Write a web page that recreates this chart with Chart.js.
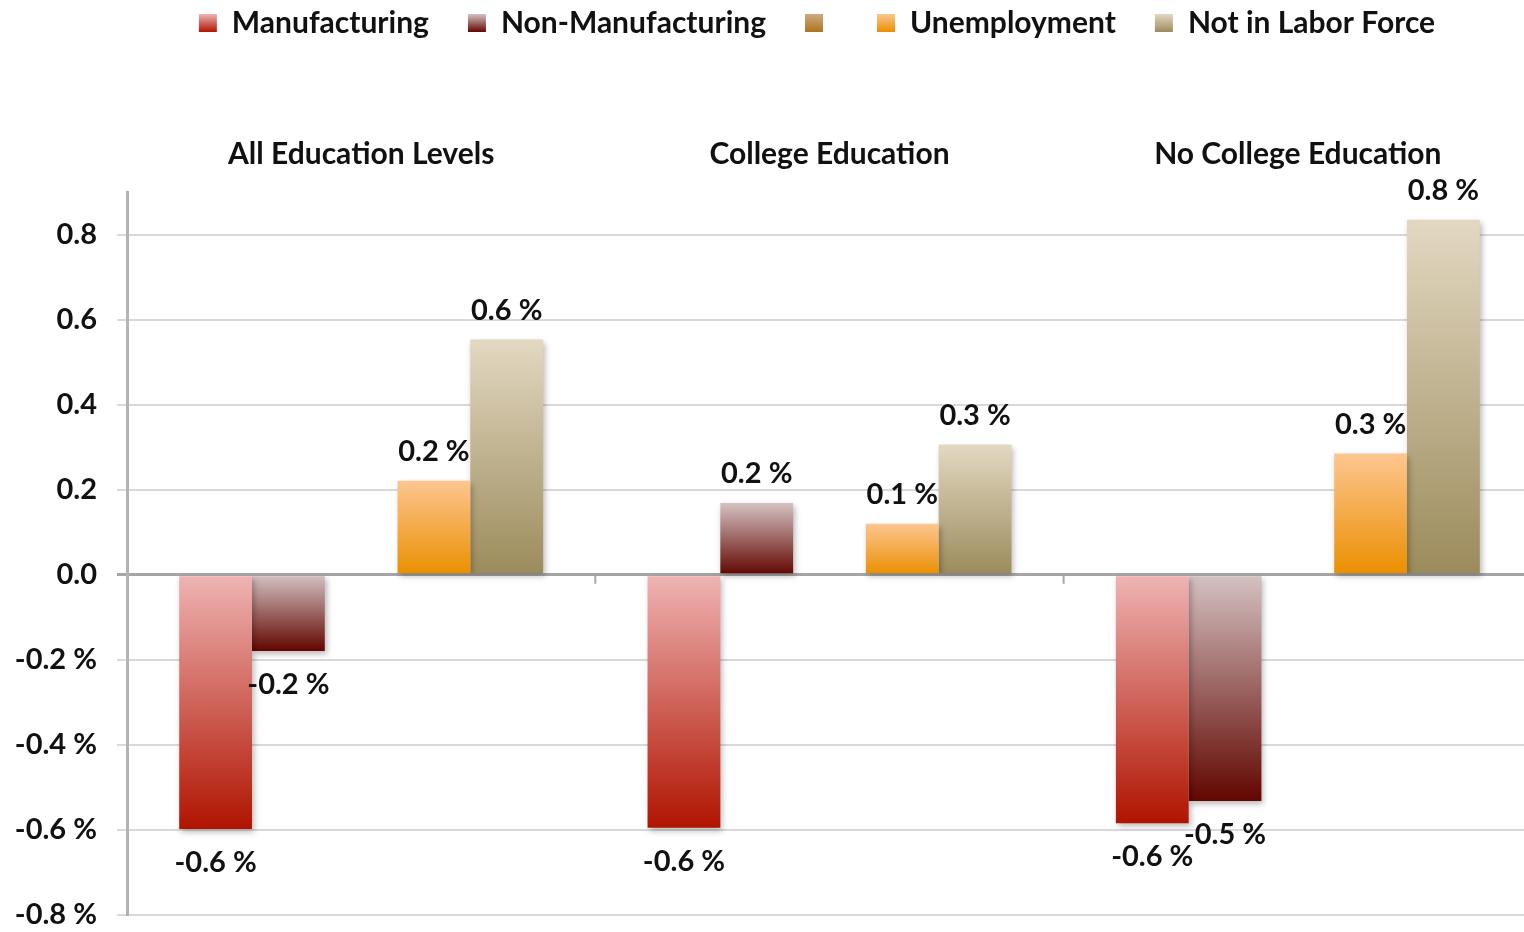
<!DOCTYPE html>
<html><head><meta charset="utf-8">
<script src="https://cdn.jsdelivr.net/npm/chart.js@4.4.1/dist/chart.umd.min.js"></script>
<style>html,body{margin:0;padding:0;background:#fff}#wrap{width:1524px;height:932px}</style>
</head><body><div id="wrap"><canvas id="c" width="1524" height="932"></canvas></div>
<script>
const categories=['All Education Levels','College Education','No College Education'];
const seriesNames=['Manufacturing','Non-Manufacturing','','Unemployment','Not in Labor Force'];
const manufacturing=[-0.598,-0.595,-0.584];
const nonManufacturing=[-0.179,0.169,-0.532];
const blankSeries=[null,null,null];
const unemployment=[0.221,0.12,0.285];
const notInLaborForce=[0.553,0.306,0.835];
const yTicks=[-0.8,-0.6,-0.4,-0.2,0,0.2,0.4,0.6,0.8];

// top / bottom colours of each bar's gradient
const palette=[['#efb4b4','#b01400'],['#d4c2c2','#620600'],['#cfa980','#ad7420'],['#fdc690','#ea8f00'],['#e3d8c2','#9b8b5b']];
const FONT='Lato, "Open Sans", sans-serif';

function barFill(i){
  return c=>{
    const ch=c.chart;
    if(!ch.chartArea||c.type!=='data'||c.parsed==null) return palette[i][1];
    const y=ch.scales.y, v=c.parsed.y;
    const g=ch.ctx.createLinearGradient(0,y.getPixelForValue(Math.max(v,0)),0,y.getPixelForValue(Math.min(v,0)));
    g.addColorStop(0,palette[i][0]);g.addColorStop(1,palette[i][1]);
    return g;
  };
}

const seriesData=[manufacturing,nonManufacturing,blankSeries,unemployment,notInLaborForce];
const datasets=seriesData.map((d,i)=>({label:seriesNames[i],data:d,backgroundColor:barFill(i),borderWidth:0}));

const legendSpace={id:'legendSpace',
  beforeInit(chart){const f=chart.legend.fit;chart.legend.fit=function(){f.call(this);this.height=163;};},
  afterLayout(chart){
    chart.legend.left=110;
    // category axis runs a little past the right edge in the original
    const xs=chart.scales.x;xs.right+=8;xs.width+=8;xs.configure();
  }
};
const shadow={id:'shadow',
  beforeDatasetsDraw(chart){const x=chart.ctx;x.save();x.shadowColor='rgba(0,0,0,0.28)';x.shadowBlur=6;x.shadowOffsetX=2;x.shadowOffsetY=3;},
  afterDatasetsDraw(chart){chart.ctx.restore();}
};
const extras={id:'extras',
  afterDraw(chart){
    const x=chart.ctx, xs=chart.scales.x, y0=chart.scales.y.getPixelForValue(0);
    x.save();x.strokeStyle='#a6a6a6';x.lineWidth=2;
    for(let i=0;i<categories.length-1;i++){
      const px=(xs.getPixelForTick(i)+xs.getPixelForTick(i+1))/2;
      x.beginPath();x.moveTo(px,y0);x.lineTo(px,y0+9);x.stroke();
    }
    x.fillStyle='#111';x.font='bold 29px '+FONT;x.textAlign='center';x.textBaseline='middle';
    chart.data.datasets.forEach((ds,di)=>{
      const meta=chart.getDatasetMeta(di);
      meta.data.forEach((bar,j)=>{
        const v=ds.data[j]; if(v==null) return;
        x.fillText(v.toFixed(1)+' %',bar.x,v>=0?bar.y-29:bar.y+34);
      });
    });
    x.restore();
  }
};

new Chart(document.getElementById('c'),{
  type:'bar',
  data:{labels:categories,datasets},
  options:{
    responsive:false,animation:false,
    layout:{padding:{top:-31,left:0,right:0,bottom:17}},
    datasets:{bar:{barPercentage:1,categoryPercentage:0.777}},
    plugins:{
      tooltip:{enabled:false},
      legend:{position:'top',align:'center',
        labels:{boxWidth:18,boxHeight:18,padding:39,color:'#111',font:{family:FONT,size:30,weight:'bold'},
          generateLabels(chart){
            const items=Chart.defaults.plugins.legend.labels.generateLabels(chart);
            return items.map((it,i)=>{
              const g=chart.ctx.createLinearGradient(0,14,0,32);
              g.addColorStop(0,palette[i][0]);g.addColorStop(1,palette[i][1]);
              it.fillStyle=g;it.strokeStyle='rgba(0,0,0,0)';it.lineWidth=0;
              return it;
            });
          }}}
    },
    scales:{
      x:{position:'top',grid:{display:false,drawTicks:false},border:{display:false},
        ticks:{padding:20,color:'#111',font:{family:FONT,size:30,weight:'bold'}},
        afterFit(a){a.height=60;}},
      y:{min:-0.8,max:0.9,
        afterBuildTicks(a){a.ticks=yTicks.map(v=>({value:v}));},
        afterFit(a){a.width=127;a.paddingTop=0;a.paddingBottom=0;},
        border:{color:'#b3b3b3',width:3},
        grid:{tickLength:10,
          color:c=>c.tick&&c.tick.value===0?'#a6a6a6':'#d9d9d9',
          lineWidth:c=>c.tick&&c.tick.value===0?3:2},
        ticks:{padding:20,color:'#111',font:{family:FONT,size:29,weight:'bold'},
          callback:v=>v>=0?v.toFixed(1):v.toFixed(1)+' %'}}
    }
  },
  plugins:[legendSpace,shadow,extras]
});
</script></body></html>
